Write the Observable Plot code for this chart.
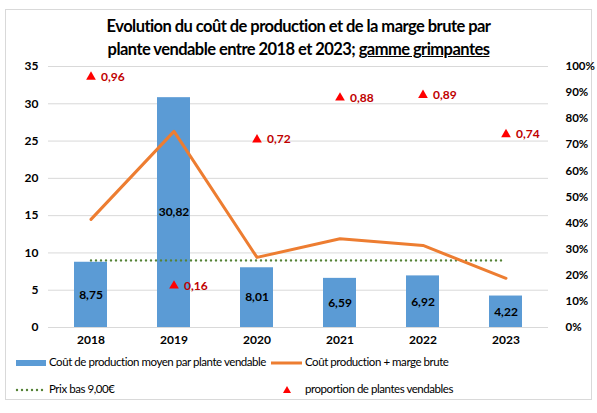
<!DOCTYPE html>
<html><head><meta charset="utf-8">
<script src="https://cdn.jsdelivr.net/npm/d3@7"></script>
<script src="https://cdn.jsdelivr.net/npm/@observablehq/plot@0.6"></script>
<style>
body{margin:0;background:#fff;font-family:Lato,"Open Sans",sans-serif;}
#wrap{position:relative;width:597px;height:413px;overflow:hidden;}
#frame{position:absolute;left:5px;top:9px;width:587px;height:391px;border:1px solid #d9d9d9;box-sizing:border-box;}
#title{position:absolute;left:0;top:15px;width:597px;text-align:center;font-weight:bold;font-size:16.5px;letter-spacing:-0.55px;line-height:23px;color:#000;}
#chart{position:absolute;left:0;top:58px;}
.lg{position:absolute;font-size:11.5px;letter-spacing:-0.45px;color:#000;white-space:nowrap;}
</style></head>
<body><div id="wrap"><div id="frame"></div>
<div id="title">Evolution du coût de production et de la marge brute par<br>plante vendable entre 2018 et 2023; <u>gamme grimpantes</u></div>
<div id="chart"></div>
<div id="legend"></div>
</div>
<script>
const years = ["2018","2019","2020","2021","2022","2023"];
const coutProduction = [8.75, 30.82, 8.01, 6.59, 6.92, 4.22];
const coutPlusMarge = [14.5, 26.3, 9.4, 11.9, 11.0, 6.6];
const prixBas = 9.00;
const proportion = [0.96, 0.16, 0.72, 0.88, 0.89, 0.74];
const leftTicks = [0,5,10,15,20,25,30,35];
const rightTicks = [0,10,20,30,40,50,60,70,80,90,100];
const yMax = 35;

const rows = years.map((y,i)=>({year:y, cost:coutProduction[i], total:coutPlusMarge[i], prop:proportion[i], low:prixBas}));
const fmt = v => v.toFixed(2).replace(".", ",");

const chart = Plot.plot({
  width: 597, height: 300,
  marginLeft: 48, marginRight: 49, marginTop: 8, marginBottom: 31,
  style: {fontFamily: "Lato, sans-serif", fontSize: "12px", color: "#000", background: "transparent"},
  x: {type: "band", domain: years, paddingInner: 0.6, paddingOuter: 0.3, label: null},
  y: {domain: [0, yMax], label: null},
  marks: [
    Plot.ruleY(leftTicks, {stroke: "#d9d9d9", strokeWidth: 1}),
    Plot.barY(rows, {x: "year", y: "cost", fill: "#5B9BD5"}),
    Plot.line(rows, {x: "year", y: "low", stroke: "#548235", strokeWidth: 2.4, strokeDasharray: "0 5", strokeLinecap: "round"}),
    Plot.line(rows, {x: "year", y: "total", stroke: "#ED7D31", strokeWidth: 3}),
    Plot.text(rows, {x: "year", y: d => d.cost / 2, text: d => fmt(d.cost), fontWeight: "bold", fontSize: 12, fill: "#000"}),
    Plot.dot(rows, {x: "year", y: d => d.prop * yMax, symbol: "triangle", r: 3.6, fill: "#FF0000", stroke: null}),
    Plot.text(rows, {x: "year", y: d => d.prop * yMax, text: d => fmt(d.prop), dx: 10, textAnchor: "start", fill: "#C00000", fontWeight: "bold", fontSize: 12}),
    Plot.axisY(leftTicks, {anchor: "left", tickSize: 0, tickPadding: 10, fontWeight: "bold", fontSize: 12, fill: "#000", label: null}),
    Plot.axisY(rightTicks.map(p => p / 100 * yMax), {anchor: "right", tickSize: 0, tickPadding: 17, textAnchor: "start", fontWeight: "bold", fontSize: 11.5, fill: "#000", label: null, tickFormat: (d, i) => rightTicks[i] + "%"}),
    Plot.axisX({tickSize: 0, tickPadding: 8, fontWeight: "bold", fontSize: 12, fill: "#000", label: null})
  ]
});
document.getElementById("chart").appendChild(chart);

const legend = document.getElementById("legend");
legend.innerHTML = `
<svg style="position:absolute;left:0;top:350px" width="597" height="50">
  <rect x="16" y="10" width="30" height="6" fill="#5B9BD5"/>
  <line x1="271" x2="302" y1="13" y2="13" stroke="#ED7D31" stroke-width="3"/>
  <line x1="17" x2="46" y1="40" y2="40" stroke="#548235" stroke-width="2.4" stroke-dasharray="0 5" stroke-linecap="round"/>
  <path d="M287,36 L291,43 L283,43 Z" fill="#FF0000"/>
</svg>
<div class="lg" style="left:49px;top:355px">Coût de production moyen par plante vendable</div>
<div class="lg" style="left:305px;top:355px">Coût production + marge brute</div>
<div class="lg" style="left:49px;top:382px">Prix bas 9,00€</div>
<div class="lg" style="left:305px;top:382px">proportion de plantes vendables</div>`;
</script></body></html>
